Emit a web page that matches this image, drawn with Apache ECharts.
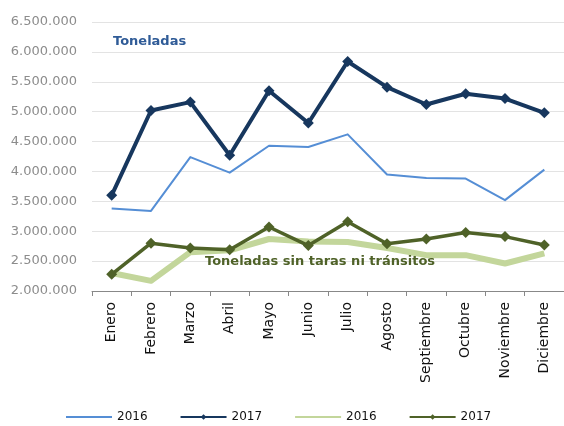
<!DOCTYPE html>
<html>
<head>
<meta charset="utf-8">
<script src="https://cdn.jsdelivr.net/npm/echarts@6/dist/echarts.min.js"></script>
<style>
  html, body { margin: 0; padding: 0; background: #fff; }
  #main { width: 564px; height: 426px; }
</style>
</head>
<body>
<div id="main"></div>
<script>
const months = ['Enero', 'Febrero', 'Marzo', 'Abril', 'Mayo', 'Junio', 'Julio', 'Agosto', 'Septiembre', 'Octubre', 'Noviembre', 'Diciembre'];

// Toneladas
const ton2016 = [3380000, 3340000, 4240000, 3980000, 4430000, 4410000, 4620000, 3950000, 3890000, 3880000, 3520000, 4030000];
const ton2017 = [3600000, 5020000, 5160000, 4270000, 5350000, 4810000, 5840000, 5410000, 5120000, 5300000, 5220000, 4980000];

// Toneladas sin taras ni tránsitos
const neto2016 = [2300000, 2170000, 2650000, 2680000, 2870000, 2830000, 2820000, 2720000, 2600000, 2600000, 2460000, 2630000];
const neto2017 = [2280000, 2800000, 2720000, 2690000, 3070000, 2760000, 3160000, 2790000, 2870000, 2980000, 2910000, 2770000];

const yMin = 2000000, yMax = 6500000, yStep = 500000;

const diamond = 'path://M0,-1L1,0L0,1L-1,0Z';
const font = 'DejaVu Sans';

const chart = echarts.init(document.getElementById('main'));

const fmt = v => String(v).replace(/\B(?=(\d{3})+(?!\d))/g, '.');

// plain line in the legend for the series without markers
const noMarker = { color: 'rgba(0,0,0,0)', borderWidth: 0 };

chart.setOption({
  animation: false,
  grid: { left: 92, right: -2, top: 22, bottom: 135 },
  xAxis: {
    type: 'category',
    data: months,
    boundaryGap: true,
    axisLine: { lineStyle: { color: '#888888', width: 1 } },
    axisTick: { show: true, length: 5, lineStyle: { color: '#888888' } },
    axisLabel: { rotate: 90, margin: 11, fontSize: 14, color: '#111', fontFamily: font, interval: 0 }
  },
  yAxis: {
    type: 'value',
    min: yMin,
    max: yMax,
    interval: yStep,
    axisLine: { show: false },
    axisTick: { show: false },
    splitLine: { lineStyle: { color: '#e3e3e3', width: 1 } },
    axisLabel: { formatter: fmt, fontSize: 13, color: '#8c8c8c', fontFamily: font, margin: 15 }
  },
  legend: {
    left: 60,
    top: 406,
    itemWidth: 46,
    itemHeight: 7,
    itemGap: 32,
    formatter: name => name.slice(0, 4),
    textStyle: { fontSize: 12, color: '#111', fontFamily: font },
    data: [
      { name: '2016a', itemStyle: noMarker },
      '2017a',
      { name: '2016b', itemStyle: noMarker },
      '2017b'
    ]
  },
  graphic: [
    { type: 'text', z: 100, left: 113, top: 35, style: { text: 'Toneladas', fill: '#2f5b97', font: 'bold 13px "DejaVu Sans"' } },
    { type: 'text', z: 100, left: 205, top: 255, style: { text: 'Toneladas sin taras ni tránsitos', fill: '#4f6228', font: 'bold 13px "DejaVu Sans"' } }
  ],
  series: [
    {
      name: '2016a', type: 'line', data: ton2016, symbol: 'none',
      lineStyle: { color: '#558ed5', width: 2, join: 'round' }, itemStyle: { color: '#558ed5' }
    },
    {
      name: '2017a', type: 'line', data: ton2017, symbol: diamond, symbolSize: 11,
      lineStyle: { color: '#17375e', width: 4, join: 'round' }, itemStyle: { color: '#17375e' }
    },
    {
      name: '2016b', type: 'line', data: neto2016, symbol: 'none',
      lineStyle: { color: '#c3d69b', width: 6, join: 'round' }, itemStyle: { color: '#c3d69b' }
    },
    {
      name: '2017b', type: 'line', data: neto2017, symbol: diamond, symbolSize: 11,
      lineStyle: { color: '#4f6228', width: 3.5, join: 'round' }, itemStyle: { color: '#4f6228' }
    }
  ]
});
</script>
</body>
</html>
